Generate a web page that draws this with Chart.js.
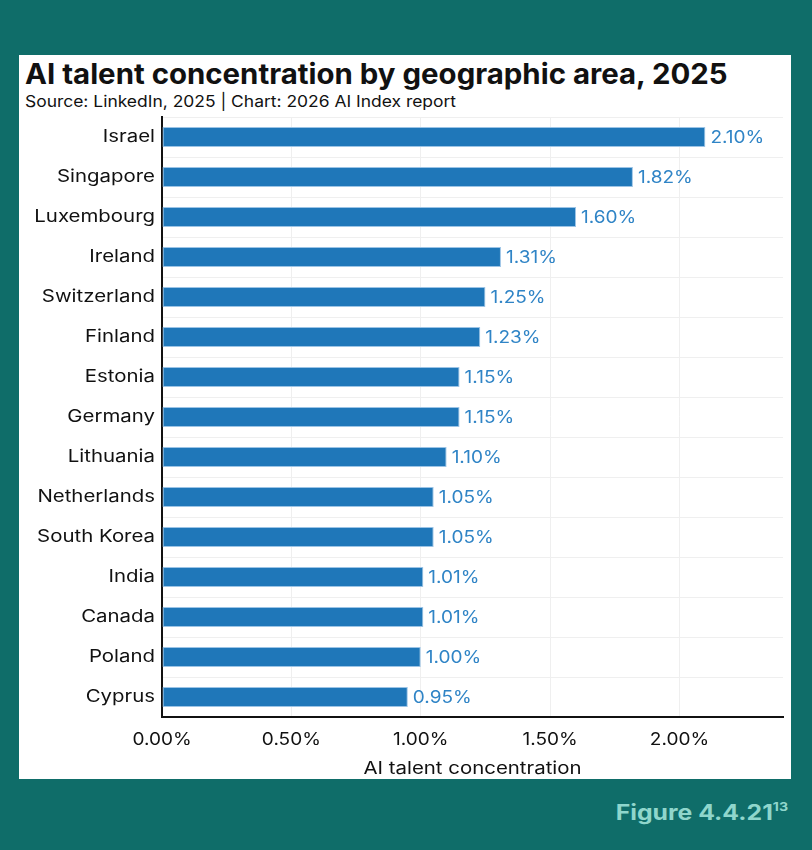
<!DOCTYPE html>
<html><head><meta charset="utf-8">
<script src="https://cdn.jsdelivr.net/npm/chart.js@4.4.1/dist/chart.umd.min.js"></script>
<style>
html,body{margin:0;padding:0;}
body{width:812px;height:850px;background:#0f6d69;position:relative;overflow:hidden;font-family:Inter,"Noto Sans",sans-serif;}
#panel{position:absolute;left:19px;top:55px;width:772px;height:724px;background:#fff;}
#title{position:absolute;left:6px;top:5px;font-weight:700;font-size:28px;line-height:28px;color:#111;white-space:nowrap;transform:scaleX(1.05);transform-origin:left center;}
#sub{position:absolute;left:6px;top:38px;font-size:16px;line-height:16px;color:#111;white-space:nowrap;transform:scaleX(1.09);transform-origin:left center;}
#wrap{position:absolute;left:0;top:58px;width:772px;height:666px;}
#fig{position:absolute;right:24px;top:802px;font-weight:700;font-size:21px;line-height:21px;color:#8fd6cc;white-space:nowrap;transform:scaleX(1.18);transform-origin:right center;}
#fig sup{font-size:12px;line-height:12px;vertical-align:top;position:relative;top:-1px;}
</style></head>
<body>
<div id="panel">
  <div id="title">AI talent concentration by geographic area, 2025</div>
  <div id="sub">Source: LinkedIn, 2025 | Chart: 2026 AI Index report</div>
  <div id="wrap"><canvas id="c" width="772" height="666"></canvas></div>
</div>
<div id="fig">Figure 4.4.21<sup>13</sup></div>
<script>
const categories = ["Israel","Singapore","Luxembourg","Ireland","Switzerland","Finland","Estonia","Germany","Lithuania","Netherlands","South Korea","India","Canada","Poland","Cyprus"];
const values = [2.10,1.82,1.60,1.31,1.25,1.23,1.15,1.15,1.10,1.05,1.05,1.01,1.01,1.00,0.95];
const xTicks = [0,0.5,1.0,1.5,2.0];
const axisTitle = "AI talent concentration";

const FONT = 'Inter, "Noto Sans", sans-serif';
const TXT_SX = 1.20, NUM_SX = 1.12;

// widen canvas text horizontally (reference typeface is wider than Inter)
const origFill = CanvasRenderingContext2D.prototype.fillText;
CanvasRenderingContext2D.prototype.fillText = function(t,x,y,mw){
  const s = /^[\d.]+%$/.test(String(t)) ? NUM_SX : TXT_SX;
  this.save(); this.translate(x,y); this.scale(s,1);
  origFill.call(this,t,0,0);
  this.restore();
};

const labelPlugin = {
  id:'barLabels',
  afterDatasetsDraw(chart){
    const ctx = chart.ctx;
    const meta = chart.getDatasetMeta(0);
    ctx.save();
    ctx.font = '17px ' + FONT;
    ctx.fillStyle = '#2f84c6';
    ctx.textBaseline = 'middle';
    ctx.textAlign = 'left';
    meta.data.forEach((bar,i)=>{
      ctx.fillText(values[i].toFixed(2)+'%', bar.x+5, bar.y+1);
    });
    ctx.restore();
  }
};

new Chart(document.getElementById('c'),{
  type:'bar',
  data:{labels:categories,datasets:[{data:values,backgroundColor:'#1f77b9',borderColor:'#9cc4e6',borderWidth:1,borderSkipped:false,barPercentage:0.5,categoryPercentage:1.0}]},
  options:{
    indexAxis:'y',
    responsive:false,
    animation:false,
    layout:{padding:{top:4,right:8,left:0,bottom:0}},
    plugins:{legend:{display:false},tooltip:{enabled:false}},
    scales:{
      x:{
        min:0,max:2.4,
        afterBuildTicks(scale){scale.ticks = xTicks.map(v=>({value:v}));},
        afterFit(scale){scale.height = 62;},
        ticks:{font:{family:FONT,size:17},color:'#111',padding:13,callback:(v)=>Number(v).toFixed(2)+'%'},
        grid:{color:'#efefef',lineWidth:1,drawTicks:false},
        border:{color:'#111',width:2},
        title:{display:true,text:axisTitle,font:{family:FONT,size:17},color:'#111',padding:{top:2,bottom:0}}
      },
      y:{
        afterFit(scale){scale.width = 143; scale.paddingTop = 0; scale.paddingBottom = 0;},
        ticks:{font:{family:FONT,size:17},color:'#111',padding:7},
        grid:{color:'#efefef',lineWidth:1,drawTicks:false},
        border:{color:'#111',width:2}
      }
    }
  },
  plugins:[labelPlugin]
});
</script>
</body></html>
